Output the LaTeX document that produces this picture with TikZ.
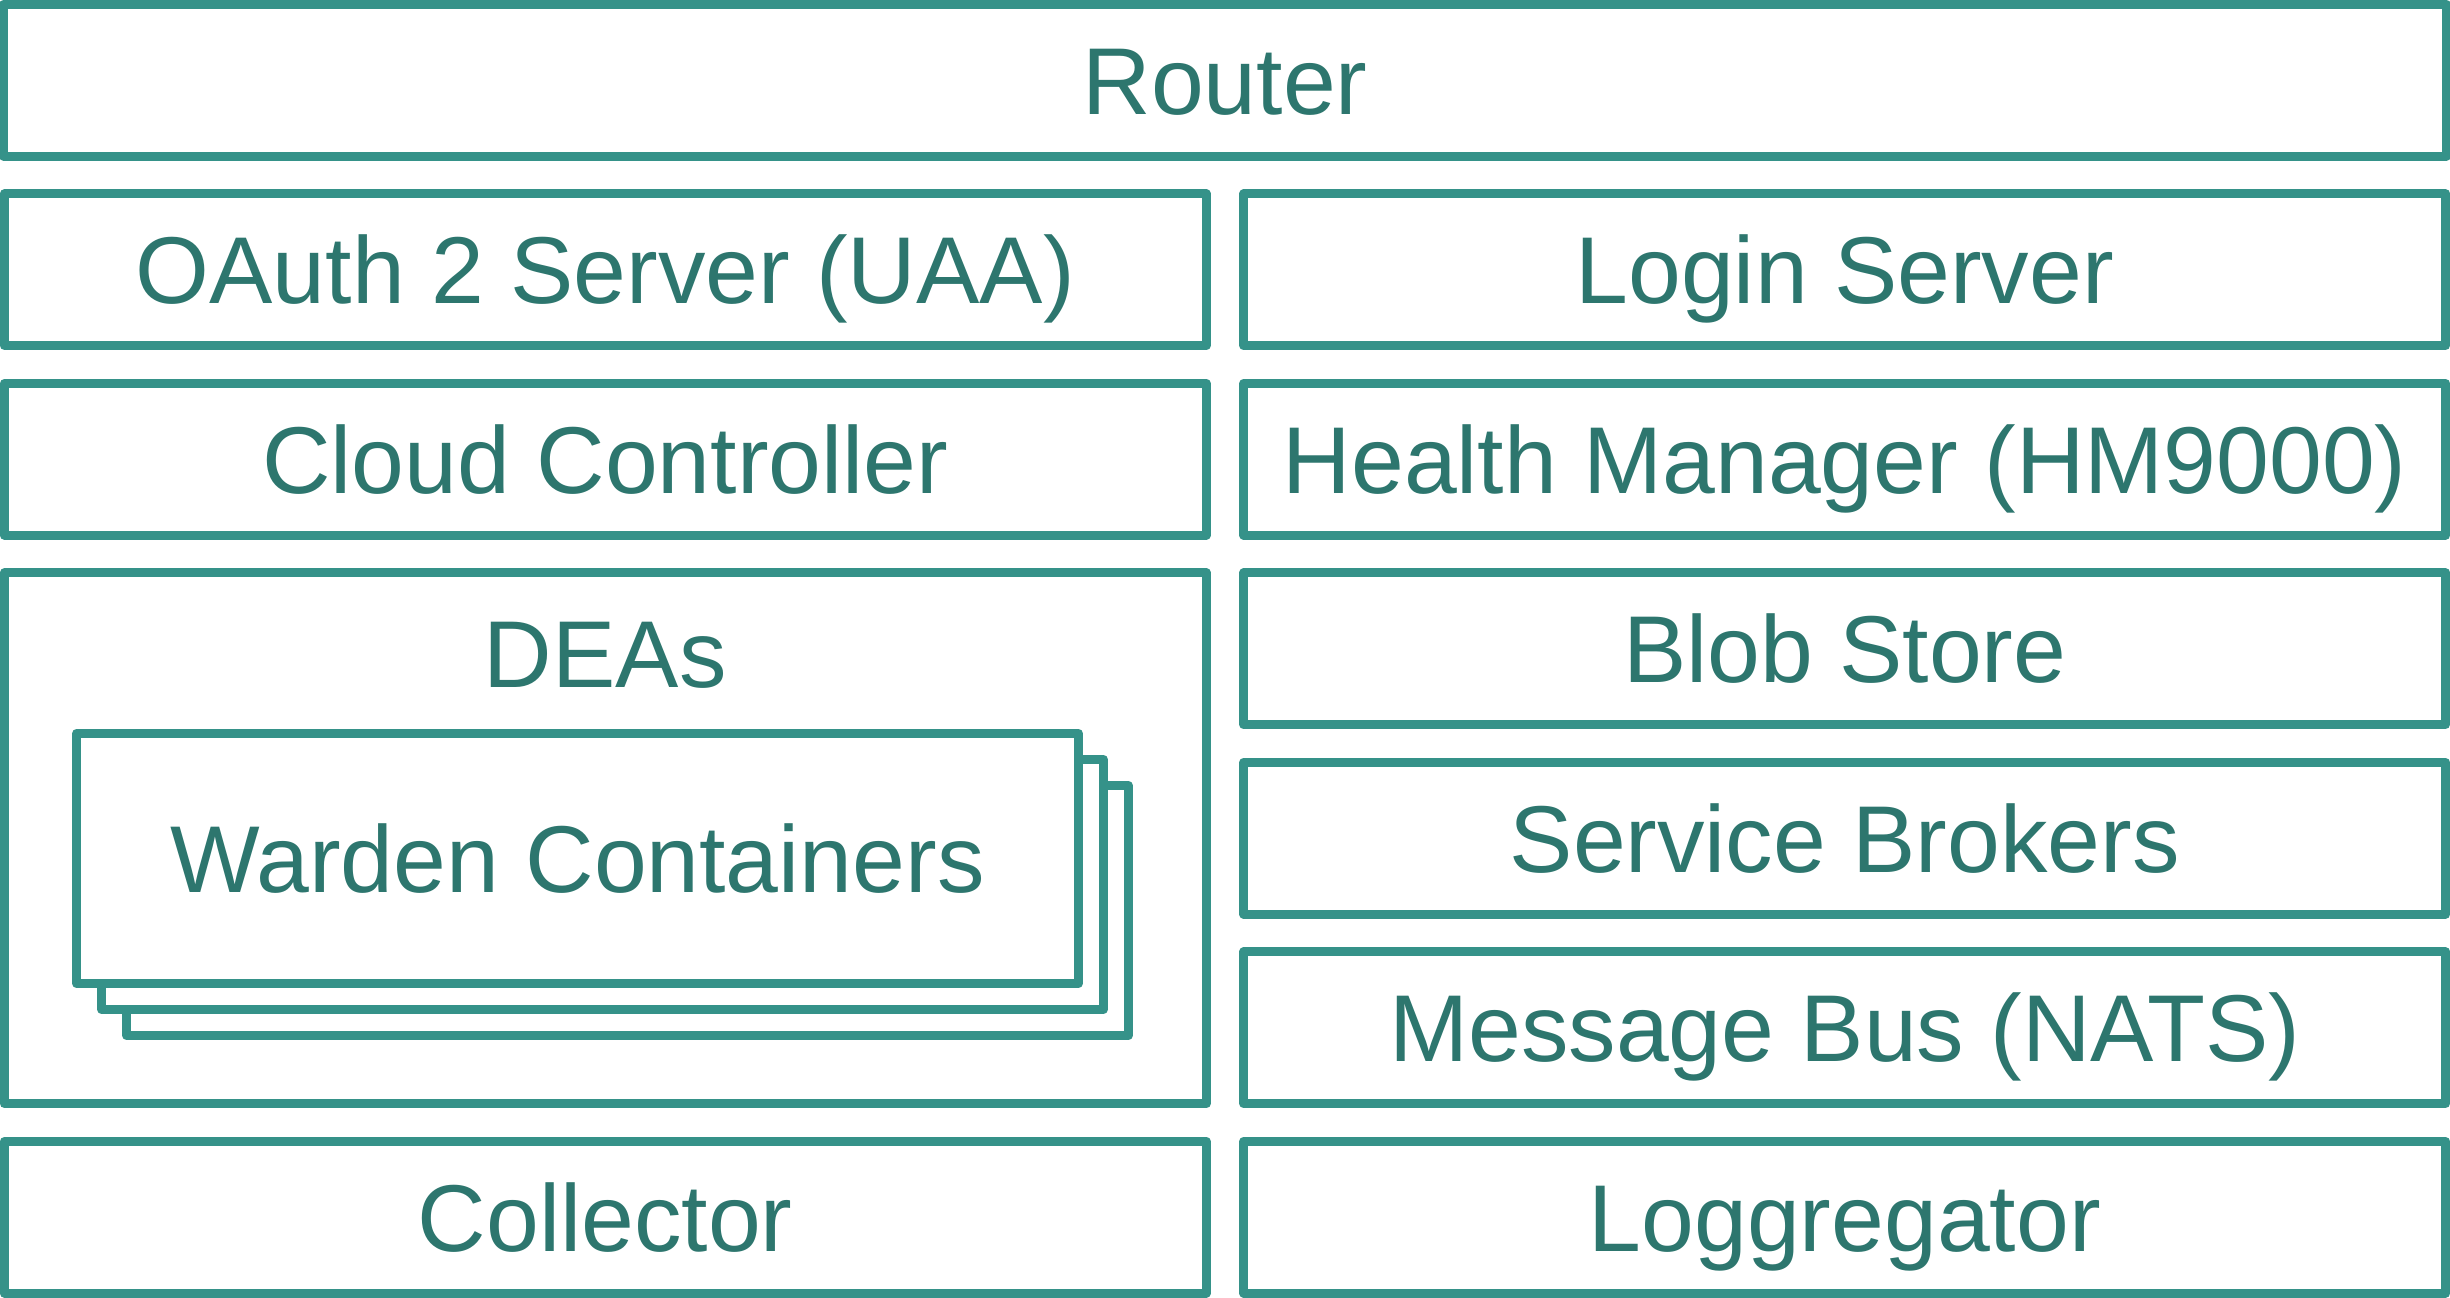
\documentclass[tikz,border=0pt]{standalone}
\usepackage{fontspec}
\setmainfont{Liberation Sans}
\definecolor{boxteal}{RGB}{53,146,137}
\definecolor{textteal}{RGB}{45,118,110}

\begin{document}
\begin{tikzpicture}
  [x=0.01cm,y=-0.01cm,
   every node/.style={draw=boxteal,line width=2.55pt,fill=white,text=textteal,
     line join=round,inner sep=0pt,text height=19.4pt,text depth=0pt,
     font=\fontsize{27}{30}\selectfont},
   half/.style={minimum width=12.015cm,minimum height=1.515cm},
   stackbox/.style={minimum width=10.01cm,minimum height=2.5cm}]
  \useasboundingbox (0,0) rectangle (2450,1298);

  \node[minimum width=24.41cm,minimum height=1.515cm] (router) at (1225,80.25) {Router};
  \node[half] (uaa) at (605.25,269.75) {OAuth 2 Server (UAA)};
  \node[half] (login) at (1844.75,269.75) {Login Server};
  \node[half] (cc) at (605.25,459.25) {Cloud Controller};
  \node[half] (hm) at (1844.75,459.25) {Health Manager (HM9000)};

  \node[minimum width=12.015cm,minimum height=5.305cm] (dea) at (605.25,838.25) {};
  \node[draw=none,fill=none] (dealabel) at (605.25,653) {DEAs};
  \foreach \i/\d in {3/2,2/1}
    \node[stackbox] (warden\i) at ({577.5+25*\d},{858.5+26*\d}) {};
  \node[stackbox] (warden1) at (577.5,858.5) {Warden Containers};

  \node[half] (blob) at (1844.75,648.75) {Blob Store};
  \node[half] (brokers) at (1844.75,838.25) {Service Brokers};
  \node[half] (nats) at (1844.75,1027.75) {Message Bus (NATS)};
  \node[half] (collector) at (605.25,1217.25) {Collector};
  \node[half] (logg) at (1844.75,1217.25) {Loggregator};

\end{tikzpicture}
\end{document}
